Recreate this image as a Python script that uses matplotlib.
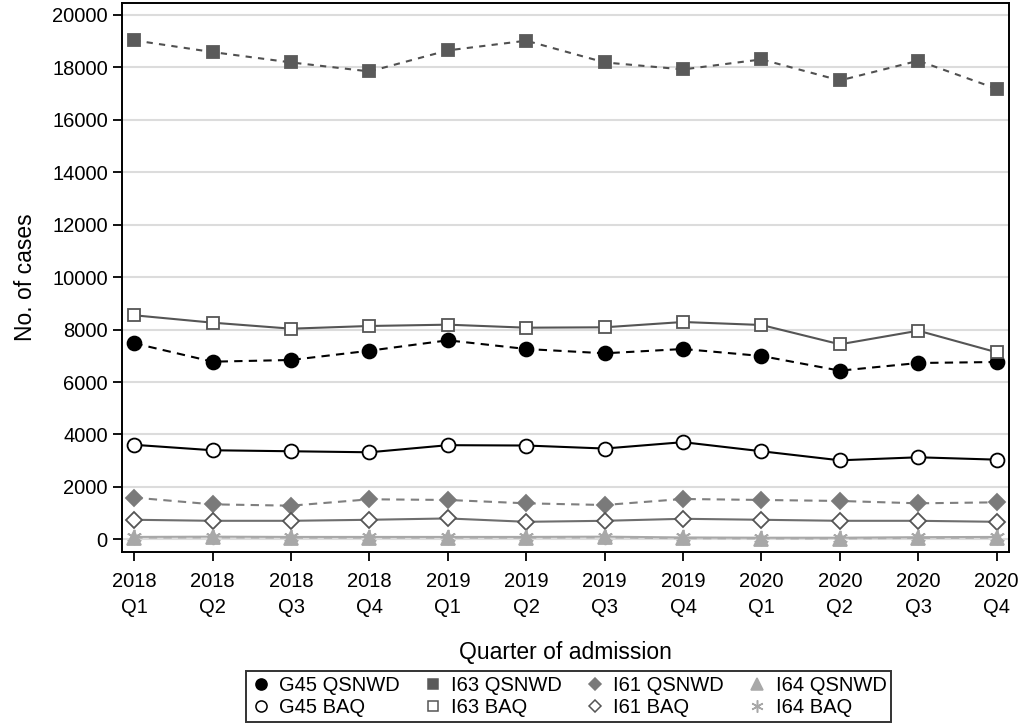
import matplotlib.pyplot as plt
from matplotlib.lines import Line2D

plt.rcParams['font.family'] = ['Liberation Sans', 'DejaVu Sans']

quarters = ['2018\nQ1', '2018\nQ2', '2018\nQ3', '2018\nQ4',
            '2019\nQ1', '2019\nQ2', '2019\nQ3', '2019\nQ4',
            '2020\nQ1', '2020\nQ2', '2020\nQ3', '2020\nQ4']

g45_qsnwd = [7477, 6775, 6840, 7194, 7591, 7259, 7095, 7259, 6992, 6432, 6725, 6763]
g45_baq = [3604, 3396, 3358, 3319, 3590, 3577, 3462, 3705, 3358, 3013, 3128, 3038]
i63_qsnwd = [19033, 18585, 18191, 17847, 18650, 19020, 18191, 17924, 18306, 17503, 18256, 17185]
i63_baq = [8545, 8263, 8034, 8137, 8187, 8072, 8087, 8289, 8175, 7438, 7957, 7133]
i61_qsnwd = [1590, 1333, 1282, 1526, 1500, 1372, 1308, 1538, 1500, 1462, 1372, 1410]
i61_baq = [744, 705, 705, 744, 795, 667, 705, 782, 744, 705, 705, 667]
i64_qsnwd = [60, 70, 60, 60, 60, 60, 70, 40, 30, 30, 50, 60]
i64_baq = [90, 100, 90, 90, 90, 90, 100, 70, 60, 60, 80, 90]

x = list(range(len(quarters)))

# (values, label, line colour, marker, face, edge, linestyle, marker size)
series = [
    (g45_qsnwd, 'G45 QSNWD', 'black', 'o', 'black', 'black', (0, (4, 3)), 10),
    (g45_baq, 'G45 BAQ', 'black', 'o', 'white', 'black', '-', 10),
    (i63_qsnwd, 'I63 QSNWD', '#505050', 's', '#5a5a5a', '#5a5a5a', (0, (3, 3)), 9),
    (i63_baq, 'I63 BAQ', '#555555', 's', 'white', '#555555', '-', 9),
    (i61_qsnwd, 'I61 QSNWD', '#7f7f7f', 'D', '#7a7a7a', '#7a7a7a', (0, (4, 3)), 8),
    (i61_baq, 'I61 BAQ', '#6e6e6e', 'D', 'white', '#555555', '-', 8),
    (i64_qsnwd, 'I64 QSNWD', '#b0b0b0', '^', '#a8a8a8', '#a8a8a8', (0, (4, 3)), 10),
    (i64_baq, 'I64 BAQ', '#a8a8a8', (6, 2, 0), '#a8a8a8', '#a8a8a8', '-', 11),
]

fig = plt.figure(figsize=(10.21, 7.24), dpi=100)
ax = fig.add_axes([0.1192, 0.238, 0.8693, 0.7583])

handles = []
for vals, lab, lc, mk, fc, ec, ls, ms in series:
    ax.plot(x, vals, color=lc, linestyle=ls, linewidth=1.5, marker=mk,
            markerfacecolor=fc, markeredgecolor=ec, markersize=ms,
            markeredgewidth=1.3, zorder=3)
    handles.append(Line2D([], [], linestyle='none', marker=mk, markerfacecolor=fc,
                          markeredgecolor=ec, markersize=ms * 0.8,
                          markeredgewidth=1.1, label=lab))

ax.set_xlim(-0.16, 11.16)
ax.set_ylim(-473, 20470)
ax.set_xticks(x)
ax.set_xticklabels(quarters, linespacing=1.5)
ax.set_yticks(range(0, 20001, 2000))
ax.yaxis.grid(True, color='#dcdcdc', linewidth=1.5)
ax.set_axisbelow(True)
ax.tick_params(axis='both', labelsize=14.5, length=6.5, width=1.3, colors='black')
ax.tick_params(axis='x', pad=8)
for sp in ax.spines.values():
    sp.set_linewidth(1.4)

ax.set_xlabel('Quarter of admission', fontsize=16.5, labelpad=17)
ax.set_ylabel('No. of cases', fontsize=16.5, labelpad=11)

leg = fig.legend(handles=handles, ncol=4, loc='lower center',
                 bbox_to_anchor=(0.557, 0.0), fontsize=14.5, frameon=True,
                 fancybox=False, edgecolor='black', borderpad=0.25,
                 handlelength=1.0, handletextpad=0.4, columnspacing=1.15,
                 labelspacing=0.15, borderaxespad=0.1)
leg.get_frame().set_linewidth(1.4)

fig.savefig('out.png', dpi=100)
